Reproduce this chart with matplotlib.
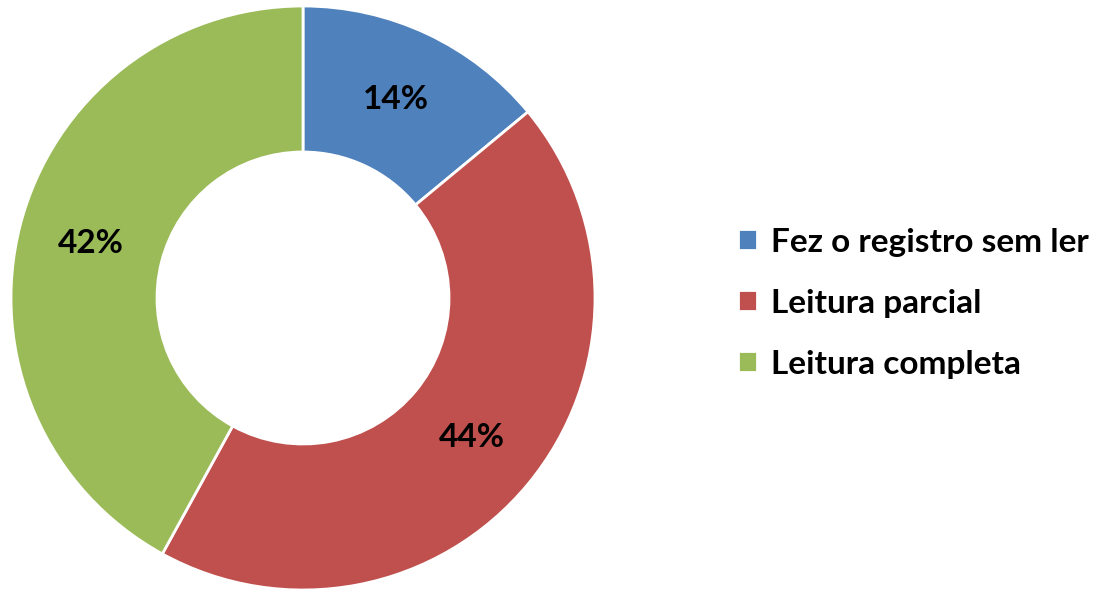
import matplotlib.pyplot as plt

# Data
labels = ['Fez o registro sem ler', 'Leitura parcial', 'Leitura completa']
values = [14, 44, 42]
colors = ['#4F81BD', '#C0504D', '#9BBB59']

plt.rcParams['font.family'] = ['Lato', 'DejaVu Sans']

fig = plt.figure(figsize=(11.04, 5.92), dpi=100)
# donut centre ~ (303, 298) px, radius ~292 px
ax = fig.add_axes([(303 - 292) / 1104, (592 - 298 - 292) / 592, 584 / 1104, 584 / 592])

wedges, texts, autotexts = ax.pie(
    values, colors=colors, startangle=90, counterclock=False,
    autopct='%1.0f%%', pctdistance=0.75, radius=1.0,
    wedgeprops=dict(width=0.5, edgecolor='white', linewidth=2),
    textprops=dict(fontsize=24, fontweight='bold', color='black'))
ax.set_xlim(-1.0, 1.0)
ax.set_ylim(-1.0, 1.0)
ax.set_aspect('equal')
ax.axis('off')

fig.legend(wedges, labels, loc='center left', bbox_to_anchor=(708 / 1104, 0.488),
           frameon=False, prop=dict(size=24, weight='bold'),
           handlelength=0.58, handleheight=0.58, handletextpad=0.42,
           labelspacing=0.96)

fig.savefig('out.png', dpi=100)
